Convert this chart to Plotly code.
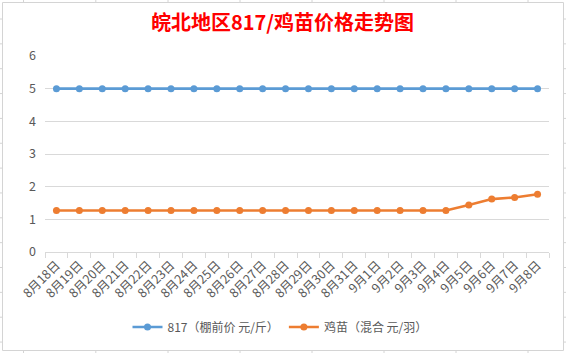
import plotly.graph_objects as go

categories = ["8月18日", "8月19日", "8月20日", "8月21日", "8月22日", "8月23日", "8月24日",
              "8月25日", "8月26日", "8月27日", "8月28日", "8月29日", "8月30日", "8月31日",
              "9月1日", "9月2日", "9月3日", "9月4日", "9月5日", "9月6日", "9月7日", "9月8日"]
price_817 = [5] * 22
price_chick = [1.27] * 18 + [1.44, 1.62, 1.67, 1.77]
series_names = ["817（棚前价 元/斤）", "鸡苗（混合 元/羽）"]
title_text = "皖北地区817/鸡苗价格走势图"
y_ticks = [0, 1, 2, 3, 4, 5, 6]

W, H = 566, 353
L, R, T, B = 45, 17, 56, 101
PW, PH = W - L - R, H - T - B

def px(x):
    return (x - L) / PW

def py(y):
    return (H - B - y) / PH

fig = go.Figure()
fig.add_trace(go.Scatter(x=categories, y=price_817, mode="lines+markers", name=series_names[0],
                         line=dict(color="#5B9BD5", width=2.6),
                         marker=dict(color="#5B9BD5", size=7)))
fig.add_trace(go.Scatter(x=categories, y=price_chick, mode="lines+markers", name=series_names[1],
                         line=dict(color="#ED7D31", width=2.6),
                         marker=dict(color="#ED7D31", size=7)))

shapes = []
shapes.append(dict(type="rect", xref="paper", yref="paper", x0=px(2.5), x1=px(563.5),
                   y0=py(350.5), y1=py(2.5), line=dict(color="#D4D4D4", width=1)))
cols = [23.5, 95.8, 168, 240, 312, 384, 456, 528]
rows = [19 + 24.85 * k for k in range(14)]
for c in cols:
    shapes.append(dict(type="line", xref="paper", yref="paper", x0=px(c), x1=px(c),
                       y0=py(0), y1=py(2.5), line=dict(color="#D4D4D4", width=1)))
    shapes.append(dict(type="line", xref="paper", yref="paper", x0=px(c), x1=px(c),
                       y0=py(350.5), y1=py(353), line=dict(color="#D4D4D4", width=1)))
for r in rows:
    shapes.append(dict(type="line", xref="paper", yref="paper", x0=px(0), x1=px(2.5),
                       y0=py(r), y1=py(r), line=dict(color="#D4D4D4", width=1)))
    shapes.append(dict(type="line", xref="paper", yref="paper", x0=px(563.5), x1=px(566),
                       y0=py(r), y1=py(r), line=dict(color="#D4D4D4", width=1)))

fig.update_layout(
    width=W, height=H,
    margin=dict(l=L, r=R, t=T, b=B),
    paper_bgcolor="white", plot_bgcolor="white",
    title=dict(text=title_text, x=px(282.5), xanchor="center", xref="paper",
               y=1 - 23 / H, yanchor="middle",
               font=dict(family="Noto Sans CJK SC", size=20, color="#FF0000", weight="bold")),
    font=dict(family="Noto Sans CJK SC", size=12, color="#595959"),
    legend=dict(orientation="h", x=px(280), xanchor="center", y=py(327), yanchor="middle",
                font=dict(size=12, color="#595959"), itemwidth=30, bgcolor="rgba(0,0,0,0)"),
    shapes=shapes,
    showlegend=True,
)
fig.update_xaxes(type="category", range=[-0.5, len(categories) - 0.5], tickangle=-45,
                 showgrid=False, showline=True, linecolor="#D9D9D9", linewidth=1,
                 ticks="outside", tickson="boundaries", ticklen=5, tickcolor="#D9D9D9",
                 tickfont=dict(size=12.5, color="#595959"), fixedrange=True)
fig.update_yaxes(range=[0, 6], tickvals=y_ticks, showgrid=True, gridcolor="#D9D9D9", gridwidth=1,
                 showline=False, zeroline=False, ticks="", ticklabelstandoff=8,
                 tickfont=dict(size=12.5, color="#595959"), fixedrange=True)

fig.write_html("out.html")
